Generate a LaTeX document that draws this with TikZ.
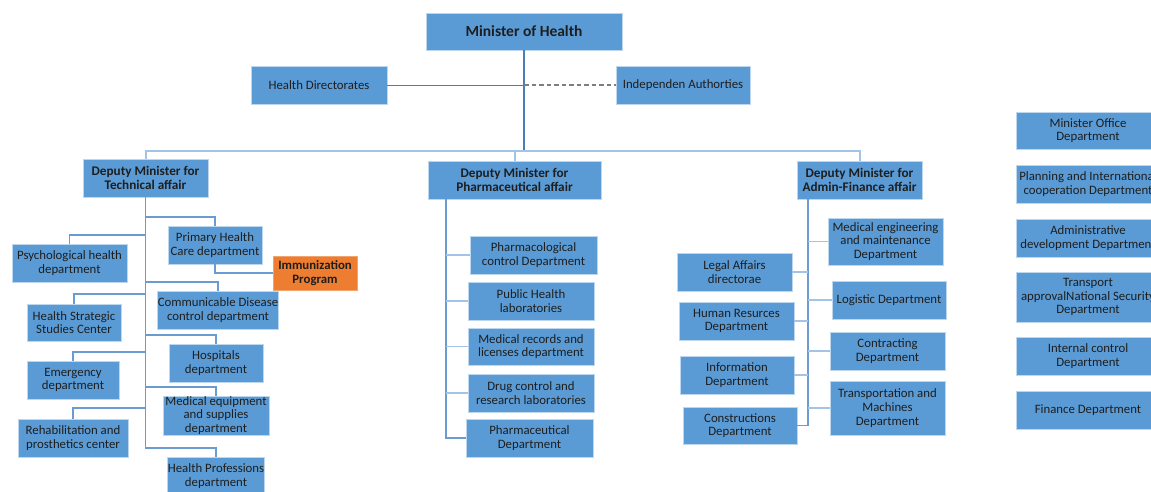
\documentclass[tikz,border=0pt]{standalone}
\usepackage{fontspec}
\setmainfont{Carlito}
\definecolor{boxfill}{HTML}{5B9BD5}
\definecolor{boxline}{HTML}{BDD7EE}
\definecolor{orangefill}{HTML}{ED7D31}
\definecolor{connc}{HTML}{6A9BD1}
\definecolor{lightc}{HTML}{A3C4E6}
\definecolor{trunkc}{HTML}{4A7EBB}
\definecolor{dashc}{HTML}{7F7F7F}
\definecolor{txt}{HTML}{1E1E1E}
\begin{document}
\begin{tikzpicture}[x=1pt,y=-1pt,
  box/.style={fill=boxfill,draw=boxline,line width=0.9pt,align=center,inner sep=0pt,
    text=txt,font=\fontsize{12.8}{13.8}\selectfont},
  bbox/.style={box,font=\fontsize{13.2}{13.6}\selectfont\bfseries},
  obox/.style={box,fill=orangefill,draw=orangefill!70!white,font=\fontsize{12.8}{13.6}\selectfont\bfseries},
  conn/.style={draw=connc,line width=1.8pt},
  lconn/.style={draw=lightc,line width=1.8pt},
  trunk/.style={draw=trunkc,line width=1.8pt},
  bus/.style={draw=lightc,line width=2pt},
  thinl/.style={draw=trunkc,line width=1pt},
  dashl/.style={draw=dashc,line width=2.2pt,dash pattern=on 4.5pt off 3pt}]
\useasboundingbox (0,0) rectangle (1151,491);
\clip (0,0) rectangle (1151,491);
% top
\node[box,minimum width=196,minimum height=37,font=\fontsize{15.5}{17}\selectfont\bfseries] (min) at (524,31.5) {Minister of Health};
\node[box,minimum width=136,minimum height=38] (hd) at (319,85) {Health  Directorates};
\node[box,minimum width=134,minimum height=38] (ia) at (683,85) {Independen  Authorties};
% deputies
\node[bbox,minimum width=125,minimum height=38] (dt) at (145.5,178) {Deputy Minister for\\Technical affair};
\node[bbox,minimum width=173,minimum height=38] (dp) at (514.5,180) {Deputy Minister for\\Pharmaceutical  affair};
\node[bbox,minimum width=125,minimum height=38] (da) at (859.5,180) {Deputy Minister for\\Admin-Finance  affair};
% technical
\node[box,minimum width=94,minimum height=38] (phc) at (215,245) {Primary  Health\\Care department};
\node[box,minimum width=115,minimum height=38] (psy) at (69.5,263) {Psychological health\\department};
\node[obox,minimum width=84,minimum height=34] (imm) at (315,273) {Immunization\\Program};
\node[box,minimum width=118,minimum height=38] (cd) at (218,310) {Communicable Disease\\control  department};
\node[box,minimum width=94,minimum height=37] (hss) at (74,322.5) {Health  Strategic\\Studies  Center};
\node[box,minimum width=94,minimum height=38] (hos) at (216,363) {Hospitals\\department};
\node[box,minimum width=92,minimum height=38] (em) at (73,380) {Emergency\\department};
\node[box,minimum width=106,minimum height=39] (meq) at (216,415.5) {Medical equipment\\and supplies\\department};
\node[box,minimum width=110,minimum height=38] (reh) at (73,438) {Rehabilitation  and\\prosthetics center};
\node[box,minimum width=94,minimum height=38] (hp) at (216,476) {Health Professions\\department};
% pharma
\node[box,minimum width=127,minimum height=38] (pc) at (533.5,255) {Pharmacological\\control Department};
\node[box,minimum width=126,minimum height=38] (phl) at (531,301) {Public Health\\laboratories};
\node[box,minimum width=126,minimum height=37] (mr) at (531,346.5) {Medical records  and\\licenses  department};
\node[box,minimum width=126,minimum height=38] (dc) at (531,393) {Drug control  and\\research  laboratories};
\node[box,minimum width=127,minimum height=38] (pd) at (529.5,438) {Pharmaceutical\\Department};
% admin
\node[box,minimum width=115,minimum height=47] (me) at (885.5,241.5) {Medical engineering\\and maintenance\\Department};
\node[box,minimum width=114,minimum height=38] (lo) at (889,300) {Logistic Department};
\node[box,minimum width=115,minimum height=38] (co) at (887.5,351) {Contracting\\Department};
\node[box,minimum width=115,minimum height=54] (tr) at (887.5,408) {Transportation  and\\Machines\\Department};
\node[box,minimum width=115,minimum height=38] (la) at (734.5,272) {Legal  Affairs\\directorae};
\node[box,minimum width=115,minimum height=38] (hr) at (736.5,321) {Human  Resurces\\Department};
\node[box,minimum width=114,minimum height=38] (inf) at (737,375) {Information\\Department};
\node[box,minimum width=114,minimum height=37] (con) at (740,425.5) {Constructions\\Department};
% right column
\node[box,minimum width=144,minimum height=37] (mo) at (1088,130.5) {Minister Office\\Department};
\node[box,minimum width=144,minimum height=38] (pl) at (1088,184) {Planning and International\\cooperation  Department};
\node[box,minimum width=144,minimum height=38] (ad) at (1088,238) {Administrative\\development   Department};
\node[box,minimum width=144,minimum height=50] (tp) at (1088,297) {Transport\\approvalNational  Security\\Department};
\node[box,minimum width=144,minimum height=38] (ic) at (1088,356) {Internal  control\\Department};
\node[box,minimum width=144,minimum height=38] (fi) at (1088,410) {Finance Department};
% top connectors
\coordinate (hub) at (min.south |- 0,151);
\draw[trunk] (min.south) -- (hub);
\draw[thinl] (hd.east) -- (hd.east -| min.south);
\draw[dashl] (hd.east -| min.south) -- (ia.west);
\draw[bus] (dt.north) -- (dt.north |- hub) -- (da.north |- hub) -- (da.north);
\draw[bus] (dp.north) -- (dp.north |- hub);
% technical connectors
\coordinate (tt) at (dt.south);
\draw[conn] (tt) -- (tt |- 0,448) -| (hp.north);
\draw[conn] (tt |- 0,217) -| (phc.north);
\draw[conn] (tt |- 0,235) -| (psy.north);
\draw[conn] (tt |- 0,282) -| (cd.north);
\draw[conn] (tt |- 0,294) -| (hss.north);
\draw[conn] (tt |- 0,335) -| (hos.north);
\draw[conn] (tt |- 0,352) -| (em.north);
\draw[conn] (tt |- 0,387) -| (meq.north);
\draw[conn] (tt |- 0,408) -| (reh.north);
\draw[conn] (phc.south) |- (imm.west);
% pharma connectors
\coordinate (pt) at (446,199);
\draw[conn] (pt) |- (pd.west);
\foreach \n in {pc,phl,mr,dc} \draw[lconn] (pt |- \n.west) -- (\n.west);
% admin connectors
\coordinate (at) at (808,199);
\draw[conn] (at) |- (con.east);
\foreach \n in {me,lo,co,tr} \draw[lconn] (at |- \n.west) -- (\n.west);
\foreach \n in {la,hr,inf} \draw[lconn] (at |- \n.east) -- (\n.east);
\end{tikzpicture}
\end{document}
